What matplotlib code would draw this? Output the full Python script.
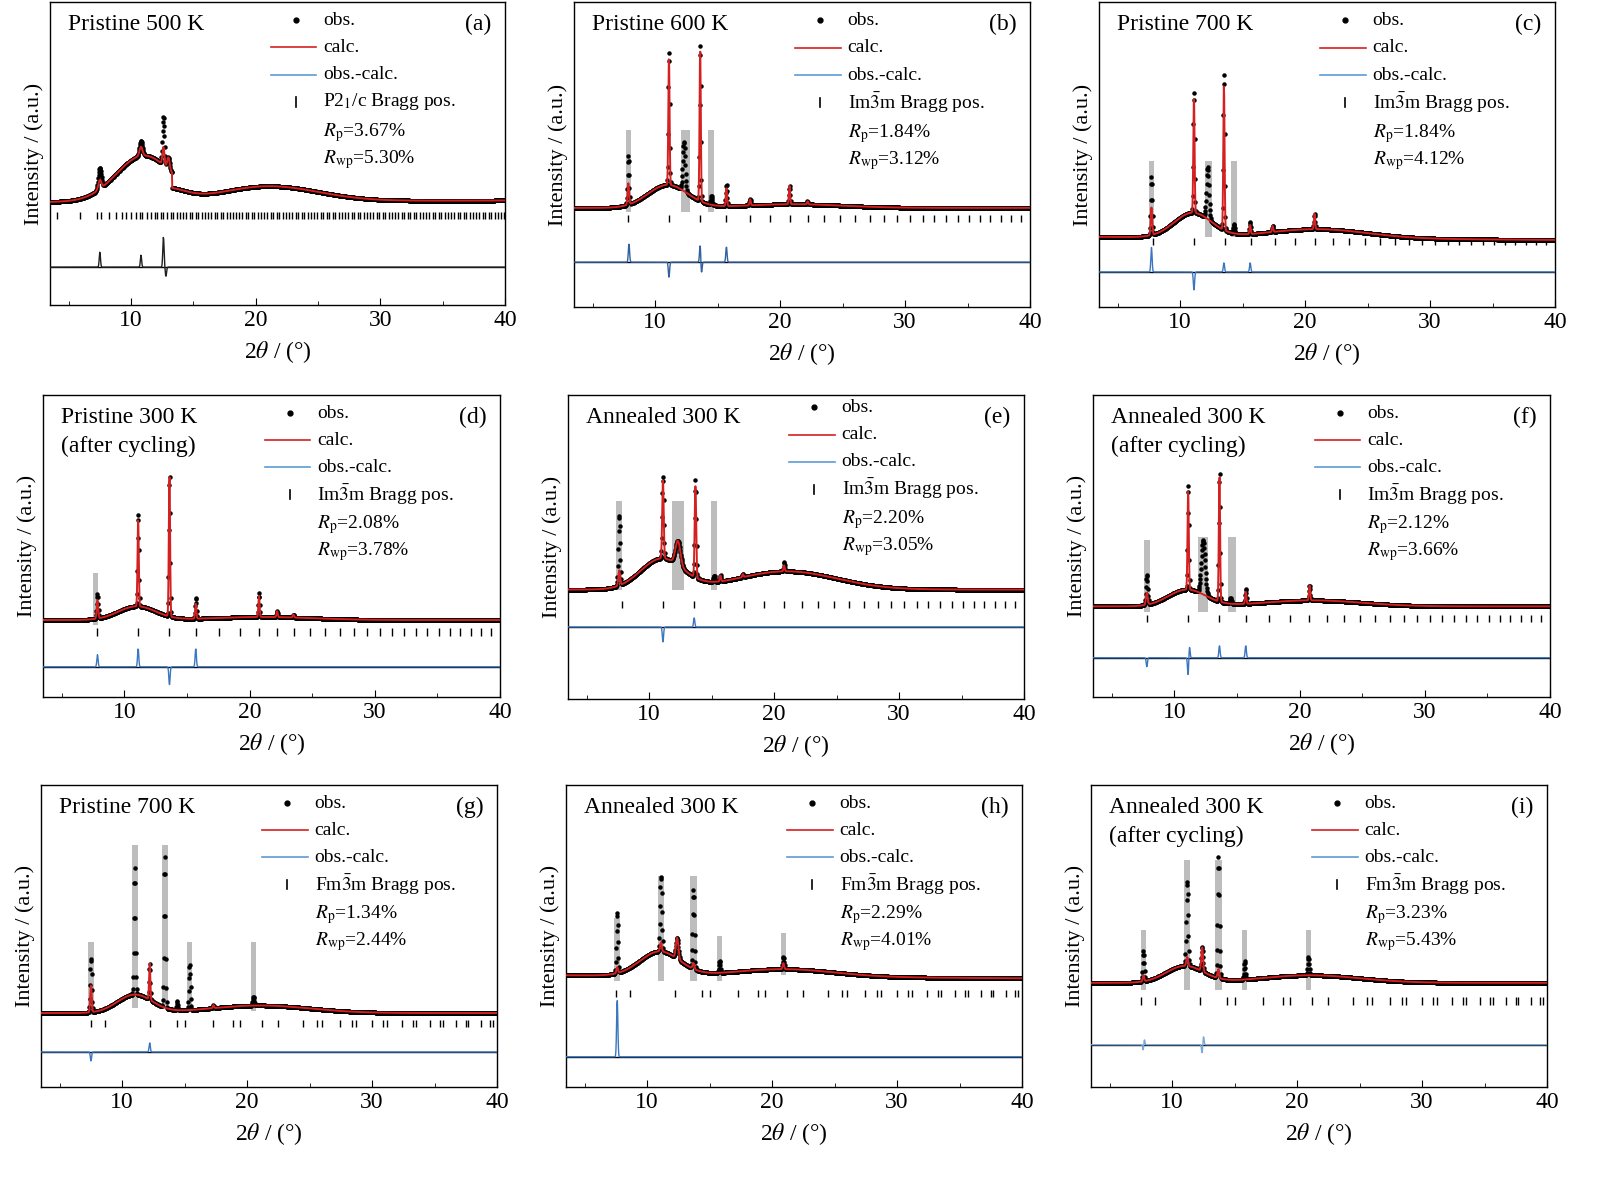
import numpy as np
import matplotlib
matplotlib.use("Agg")
import matplotlib.pyplot as plt

plt.rcParams['font.family'] = ['Liberation Serif', 'DejaVu Serif']
plt.rcParams['mathtext.fontset'] = 'stix'

LETTERS = ['a', 'b', 'c', 'd', 'e', 'f', 'g', 'h', 'i']
TITLES = ['Pristine 500 K', 'Pristine 600 K', 'Pristine 700 K',
          'Pristine 300 K\n(after cycling)', 'Annealed 300 K', 'Annealed 300 K\n(after cycling)',
          'Pristine 700 K', 'Annealed 300 K', 'Annealed 300 K\n(after cycling)']
PHASES = [r'P2$_1$/c', r'Im$\bar{3}$m', r'Im$\bar{3}$m', r'Im$\bar{3}$m', r'Im$\bar{3}$m',
          r'Im$\bar{3}$m', r'Fm$\bar{3}$m', r'Fm$\bar{3}$m', r'Fm$\bar{3}$m']
RP = ['3.67', '1.84', '1.84', '2.08', '2.20', '2.12', '1.34', '2.29', '3.23']
RWP = ['5.30', '3.12', '4.12', '3.78', '3.05', '3.66', '2.44', '4.01', '5.43']

# baseline level (axes fraction) left / right
BASE = [(0.34, 0.345), (0.325, 0.325), (0.23, 0.22), (0.255, 0.255), (0.36, 0.36),
        (0.30, 0.30), (0.245, 0.245), (0.37, 0.36), (0.345, 0.345)]
# broad humps: (center, height, sigma)
HUMPS = [[(11.0, 0.15, 2.2), (21.0, 0.05, 4.0)],
         [(11.0, 0.075, 1.6), (21.0, 0.012, 4.0)],
         [(11.0, 0.08, 1.5), (21.0, 0.03, 4.0)],
         [(11.0, 0.045, 1.5), (21.0, 0.01, 4.0)],
         [(11.0, 0.10, 1.7), (21.0, 0.06, 4.0)],
         [(11.0, 0.055, 1.5), (21.0, 0.02, 4.0)],
         [(11.0, 0.06, 1.4), (21.0, 0.025, 4.0)],
         [(11.0, 0.08, 1.6), (21.0, 0.025, 4.0)],
         [(11.0, 0.055, 1.5), (21.0, 0.025, 4.0)]]
# sharp peaks: (position, observed height, calculated height, sigma)
PEAKS = [[(7.5, 0.07, 0.03, 0.12), (10.8, 0.05, 0.03, 0.12), (12.6, 0.16, 0.06, 0.08),
          (13.0, 0.04, 0.04, 0.10)],
         [(7.85, 0.16, 0.07, 0.06), (11.1, 0.44, 0.42, 0.05), (12.3, 0.16, 0.0, 0.1),
          (13.6, 0.52, 0.50, 0.05), (14.5, 0.03, 0.0, 0.06), (15.7, 0.07, 0.06, 0.05),
          (17.6, 0.02, 0.02, 0.05), (20.75, 0.06, 0.06, 0.05), (22.2, 0.01, 0.01, 0.05)],
         [(7.7, 0.19, 0.09, 0.06), (11.1, 0.40, 0.38, 0.05), (12.2, 0.17, 0.0, 0.1),
          (13.5, 0.52, 0.48, 0.05), (14.3, 0.03, 0.0, 0.06), (15.6, 0.04, 0.03, 0.05),
          (17.4, 0.02, 0.02, 0.05), (20.75, 0.05, 0.05, 0.05)],
         [(7.85, 0.08, 0.06, 0.06), (11.1, 0.31, 0.29, 0.05), (13.6, 0.47, 0.47, 0.05),
          (15.7, 0.07, 0.05, 0.05), (20.75, 0.08, 0.07, 0.05), (22.2, 0.02, 0.02, 0.05),
          (23.5, 0.01, 0.01, 0.05)],
         [(7.6, 0.23, 0.05, 0.07), (11.1, 0.27, 0.26, 0.06), (12.3, 0.08, 0.08, 0.2),
          (13.7, 0.32, 0.30, 0.06), (15.2, 0.02, 0.0, 0.06), (15.7, 0.02, 0.02, 0.05),
          (17.5, 0.01, 0.01, 0.05), (20.8, 0.03, 0.02, 0.05)],
         [(7.8, 0.10, 0.04, 0.07), (11.1, 0.35, 0.33, 0.05), (12.3, 0.18, 0.0, 0.15),
          (13.6, 0.43, 0.42, 0.05), (14.5, 0.02, 0.0, 0.06), (15.7, 0.05, 0.04, 0.05),
          (20.8, 0.05, 0.05, 0.05)],
         [(7.5, 0.18, 0.09, 0.06), (11.0, 0.42, 0.0, 0.06), (12.2, 0.12, 0.12, 0.05),
          (13.4, 0.50, 0.0, 0.06), (14.4, 0.03, 0.0, 0.05), (15.4, 0.15, 0.0, 0.06),
          (17.3, 0.01, 0.01, 0.05), (20.5, 0.03, 0.0, 0.06)],
         [(7.6, 0.20, 0.02, 0.06), (11.1, 0.25, 0.03, 0.07), (12.4, 0.07, 0.07, 0.1),
          (13.7, 0.26, 0.02, 0.07), (15.8, 0.04, 0.0, 0.06), (20.9, 0.04, 0.02, 0.06)],
         [(7.7, 0.10, 0.02, 0.06), (11.2, 0.28, 0.03, 0.07), (12.4, 0.08, 0.08, 0.07),
          (13.7, 0.40, 0.03, 0.07), (15.8, 0.06, 0.0, 0.06), (20.9, 0.06, 0.0, 0.06)]]
# excluded regions: (center, width, y0, y1)
GREYS = [[],
         [(7.85, 0.45, 0.31, 0.58), (12.45, 0.7, 0.31, 0.58), (14.45, 0.45, 0.31, 0.58)],
         [(7.7, 0.45, 0.23, 0.48), (12.25, 0.6, 0.23, 0.48), (14.3, 0.5, 0.23, 0.48)],
         [(7.7, 0.45, 0.24, 0.41)],
         [(7.6, 0.45, 0.36, 0.65), (12.3, 0.9, 0.36, 0.65), (15.2, 0.5, 0.36, 0.65)],
         [(7.8, 0.45, 0.28, 0.52), (12.3, 0.8, 0.28, 0.53), (14.6, 0.6, 0.28, 0.53)],
         [(7.5, 0.45, 0.24, 0.48), (11.0, 0.5, 0.26, 0.80), (13.4, 0.5, 0.26, 0.80),
          (15.4, 0.45, 0.26, 0.48), (20.5, 0.45, 0.25, 0.48)],
         [(7.6, 0.45, 0.35, 0.56), (11.1, 0.5, 0.35, 0.70), (13.7, 0.5, 0.35, 0.70),
          (15.8, 0.45, 0.35, 0.50), (20.9, 0.45, 0.37, 0.51)],
         [(7.7, 0.45, 0.32, 0.52), (11.2, 0.5, 0.32, 0.75), (13.7, 0.5, 0.32, 0.75),
          (15.8, 0.45, 0.32, 0.52), (20.9, 0.45, 0.32, 0.52)]]

BRAGG_P21C = [4.1, 5.9, 7.3, 7.6, 8.2, 8.8, 9.3, 9.6, 10.0, 10.4, 10.7, 10.9, 11.3, 11.6, 11.9,
              12.1, 12.4, 12.6, 12.9, 13.2, 13.4, 13.7, 13.9, 14.2, 14.4, 14.7, 14.9, 15.2,
              15.4, 15.7, 15.9, 16.2, 16.4, 16.7, 16.9, 17.2, 17.4, 17.7, 17.9, 18.2, 18.4,
              18.7, 18.9, 19.2, 19.4, 19.7, 19.9, 20.2, 20.4, 20.7, 20.9, 21.2, 21.4, 21.7,
              21.9, 22.2, 22.4, 22.7, 22.9, 23.2, 23.4, 23.7, 23.9, 24.2, 24.4, 24.7, 24.9,
              25.2, 25.4, 25.7, 25.9, 26.2, 26.4, 26.7, 26.9, 27.2, 27.4, 27.7, 27.9, 28.2,
              28.4, 28.7, 28.9, 29.2, 29.4, 29.7, 29.9, 30.2, 30.4, 30.7, 30.9, 31.2, 31.4,
              31.7, 31.9, 32.2, 32.4, 32.7, 32.9, 33.2, 33.4, 33.7, 33.9, 34.2, 34.4, 34.7,
              34.9, 35.2, 35.4, 35.7, 35.9, 36.2, 36.4, 36.7, 36.9, 37.2, 37.4, 37.7, 37.9,
              38.2, 38.4, 38.7, 38.9, 39.2, 39.4, 39.7, 39.9]
BRAGG_BCC = [7.85, 11.1, 13.6, 15.7, 17.55, 19.2, 20.75, 22.2, 23.55, 24.8, 26.0, 27.2, 28.3,
             29.35, 30.4, 31.4, 32.35, 33.3, 34.2, 35.1, 36.0, 36.8, 37.65, 38.5, 39.3]
BRAGG_FCC = [7.5, 8.66, 12.25, 14.36, 15.0, 17.3, 18.9, 19.4, 21.2, 22.5, 24.5, 25.6, 26.0,
             27.4, 28.4, 28.7, 30.0, 30.9, 31.2, 32.4, 33.3, 33.5, 34.6, 35.4, 35.7, 36.7,
             37.5, 37.7, 38.7, 39.4, 39.7]
BRAGG_SETS = [BRAGG_P21C, BRAGG_BCC, BRAGG_BCC, BRAGG_BCC, BRAGG_BCC, BRAGG_BCC,
              BRAGG_FCC, BRAGG_FCC, BRAGG_FCC]
BRAGG_Y = [0.295, 0.29, 0.215, 0.215, 0.31, 0.26, 0.21, 0.31, 0.285]
DIFF_Y = [0.125, 0.147, 0.115, 0.10, 0.237, 0.13, 0.116, 0.10, 0.14]
# difference spikes: (position, amplitude)
DIFF_SPIKES = [[(7.5, 0.05), (10.8, 0.04), (12.6, 0.10), (12.8, -0.03)],
               [(7.9, 0.06), (11.1, -0.05), (13.6, 0.06), (13.7, -0.04), (15.7, 0.05)],
               [(7.7, 0.08), (11.1, -0.06), (13.5, 0.03), (15.6, 0.03)],
               [(7.85, 0.04), (11.1, 0.06), (13.6, -0.06), (15.7, 0.06)],
               [(11.1, -0.05), (13.6, 0.03)],
               [(7.8, -0.03), (11.1, -0.06), (11.2, 0.04), (13.6, 0.04), (15.7, 0.04)],
               [(7.5, -0.03), (12.2, 0.03)],
               [(7.6, 0.19)],
               [(7.7, -0.03), (7.75, 0.03), (12.4, -0.03), (12.5, 0.03)]]
DIFF_COLORS = ['#202020', '#3060a0', '#3a75c0', '#3a75c0', '#3a75c0', '#3a75c0',
               '#3a75c0', '#3a75c0', '#7aa8d8']

# axes rectangles in pixels: (left, top, right, bottom)
RECTS = [(50, 2, 505, 305), (574, 2, 1030, 307), (1099, 2, 1555, 307),
         (43, 395, 500, 697), (568, 395, 1024, 699), (1093, 395, 1550, 697),
         (41, 785, 497, 1087), (566, 785, 1022, 1087), (1091, 785, 1547, 1087)]

W, H = 1600, 1180
fig = plt.figure(figsize=(W / 100, H / 100), dpi=100)
x = np.arange(3.5, 40.0, 0.03)


def gauss(c, h, s):
    return h * np.exp(-0.5 * ((x - c) / s) ** 2)


for i in range(9):
    l, t, r, b = RECTS[i]
    ax = fig.add_axes([l / W, 1 - b / H, (r - l) / W, (b - t) / H])
    b0, b1 = BASE[i]
    bg = b0 + (b1 - b0) * (x - 3.5) / 36.5
    for c, h, s in HUMPS[i]:
        bg = bg + gauss(c, h, s)
    calc = bg.copy()
    obs = bg.copy()
    for c, ho, hc, s in PEAKS[i]:
        obs = obs + gauss(c, ho, s)
        calc = calc + gauss(c, hc, s)
    if i == 0:
        step = np.where(x > 13.3, -0.05 * np.exp(-(x - 13.3) / 1.5), 0)
        obs = obs + step
        calc = calc + step
    for c, w, y0, y1 in GREYS[i]:
        ax.fill_between([c - w / 2, c + w / 2], y0, y1, color='#bdbdbd', lw=0, zorder=1)
    ax.plot(x, obs, ls='none', marker='o', ms=2.2, color='black', zorder=2)
    ax.plot(x, calc, color='#d42020', lw=1.4, zorder=3)
    diff = np.full_like(x, DIFF_Y[i])
    for c, a in DIFF_SPIKES[i]:
        diff = diff + gauss(c, a, 0.05)
    ax.axhline(DIFF_Y[i], color='black', lw=1.0, zorder=2)
    ax.plot(x, diff, color=DIFF_COLORS[i], lw=1.0, zorder=3)
    bragg = [p for p in BRAGG_SETS[i] if p < 40]
    ax.vlines(bragg, BRAGG_Y[i] - 0.012, BRAGG_Y[i] + 0.012, color='black', lw=1.0)

    ax.set_xlim(3.5, 40)
    ax.set_ylim(0, 1)
    ax.set_yticks([])
    ax.set_xticks([10, 20, 30, 40])
    ax.set_xticks([5, 15, 25, 35], minor=True)
    ax.tick_params(axis='x', which='both', direction='in', labelsize=17, top=False)
    ax.tick_params(axis='x', which='major', length=5)
    ax.tick_params(axis='x', which='minor', length=3)
    ax.set_xlabel(r'2$\theta$ / (°)', fontsize=17, labelpad=6)
    ax.set_ylabel('Intensity / (a.u.)', fontsize=16, labelpad=4)
    for sp in ax.spines.values():
        sp.set_linewidth(1.0)

    ax.text(0.04, 0.96, TITLES[i], transform=ax.transAxes, fontsize=17, va='top',
            ha='left', linespacing=1.5)
    ax.text(0.97, 0.96, f'({LETTERS[i]})', transform=ax.transAxes, fontsize=17,
            va='top', ha='right')
    ys = [0.94, 0.85, 0.76, 0.67, 0.57, 0.48]
    if i == 4:
        ys = [y + 0.02 for y in ys]
    lx, tx = 0.54, 0.60
    ax.plot([lx], [ys[0]], 'o', ms=3.5, color='black', transform=ax.transAxes)
    ax.plot([lx - 0.055, lx + 0.045], [ys[1]] * 2, color='#d42020', lw=1.2,
            transform=ax.transAxes)
    ax.plot([lx - 0.055, lx + 0.045], [ys[2]] * 2, color='#5b9bd5', lw=1.2,
            transform=ax.transAxes)
    ax.plot([lx, lx], [ys[3] - 0.015, ys[3] + 0.015], color='black', lw=1.2,
            transform=ax.transAxes)
    labels = ['obs.', 'calc.', 'obs.-calc.', PHASES[i] + ' Bragg pos.',
              r'$R_{\mathrm{p}}$=' + RP[i] + '%', r'$R_{\mathrm{wp}}$=' + RWP[i] + '%']
    for y, s in zip(ys, labels):
        ax.text(tx, y, s, transform=ax.transAxes, fontsize=14, va='center', ha='left')

fig.savefig('out.png', dpi=100)
